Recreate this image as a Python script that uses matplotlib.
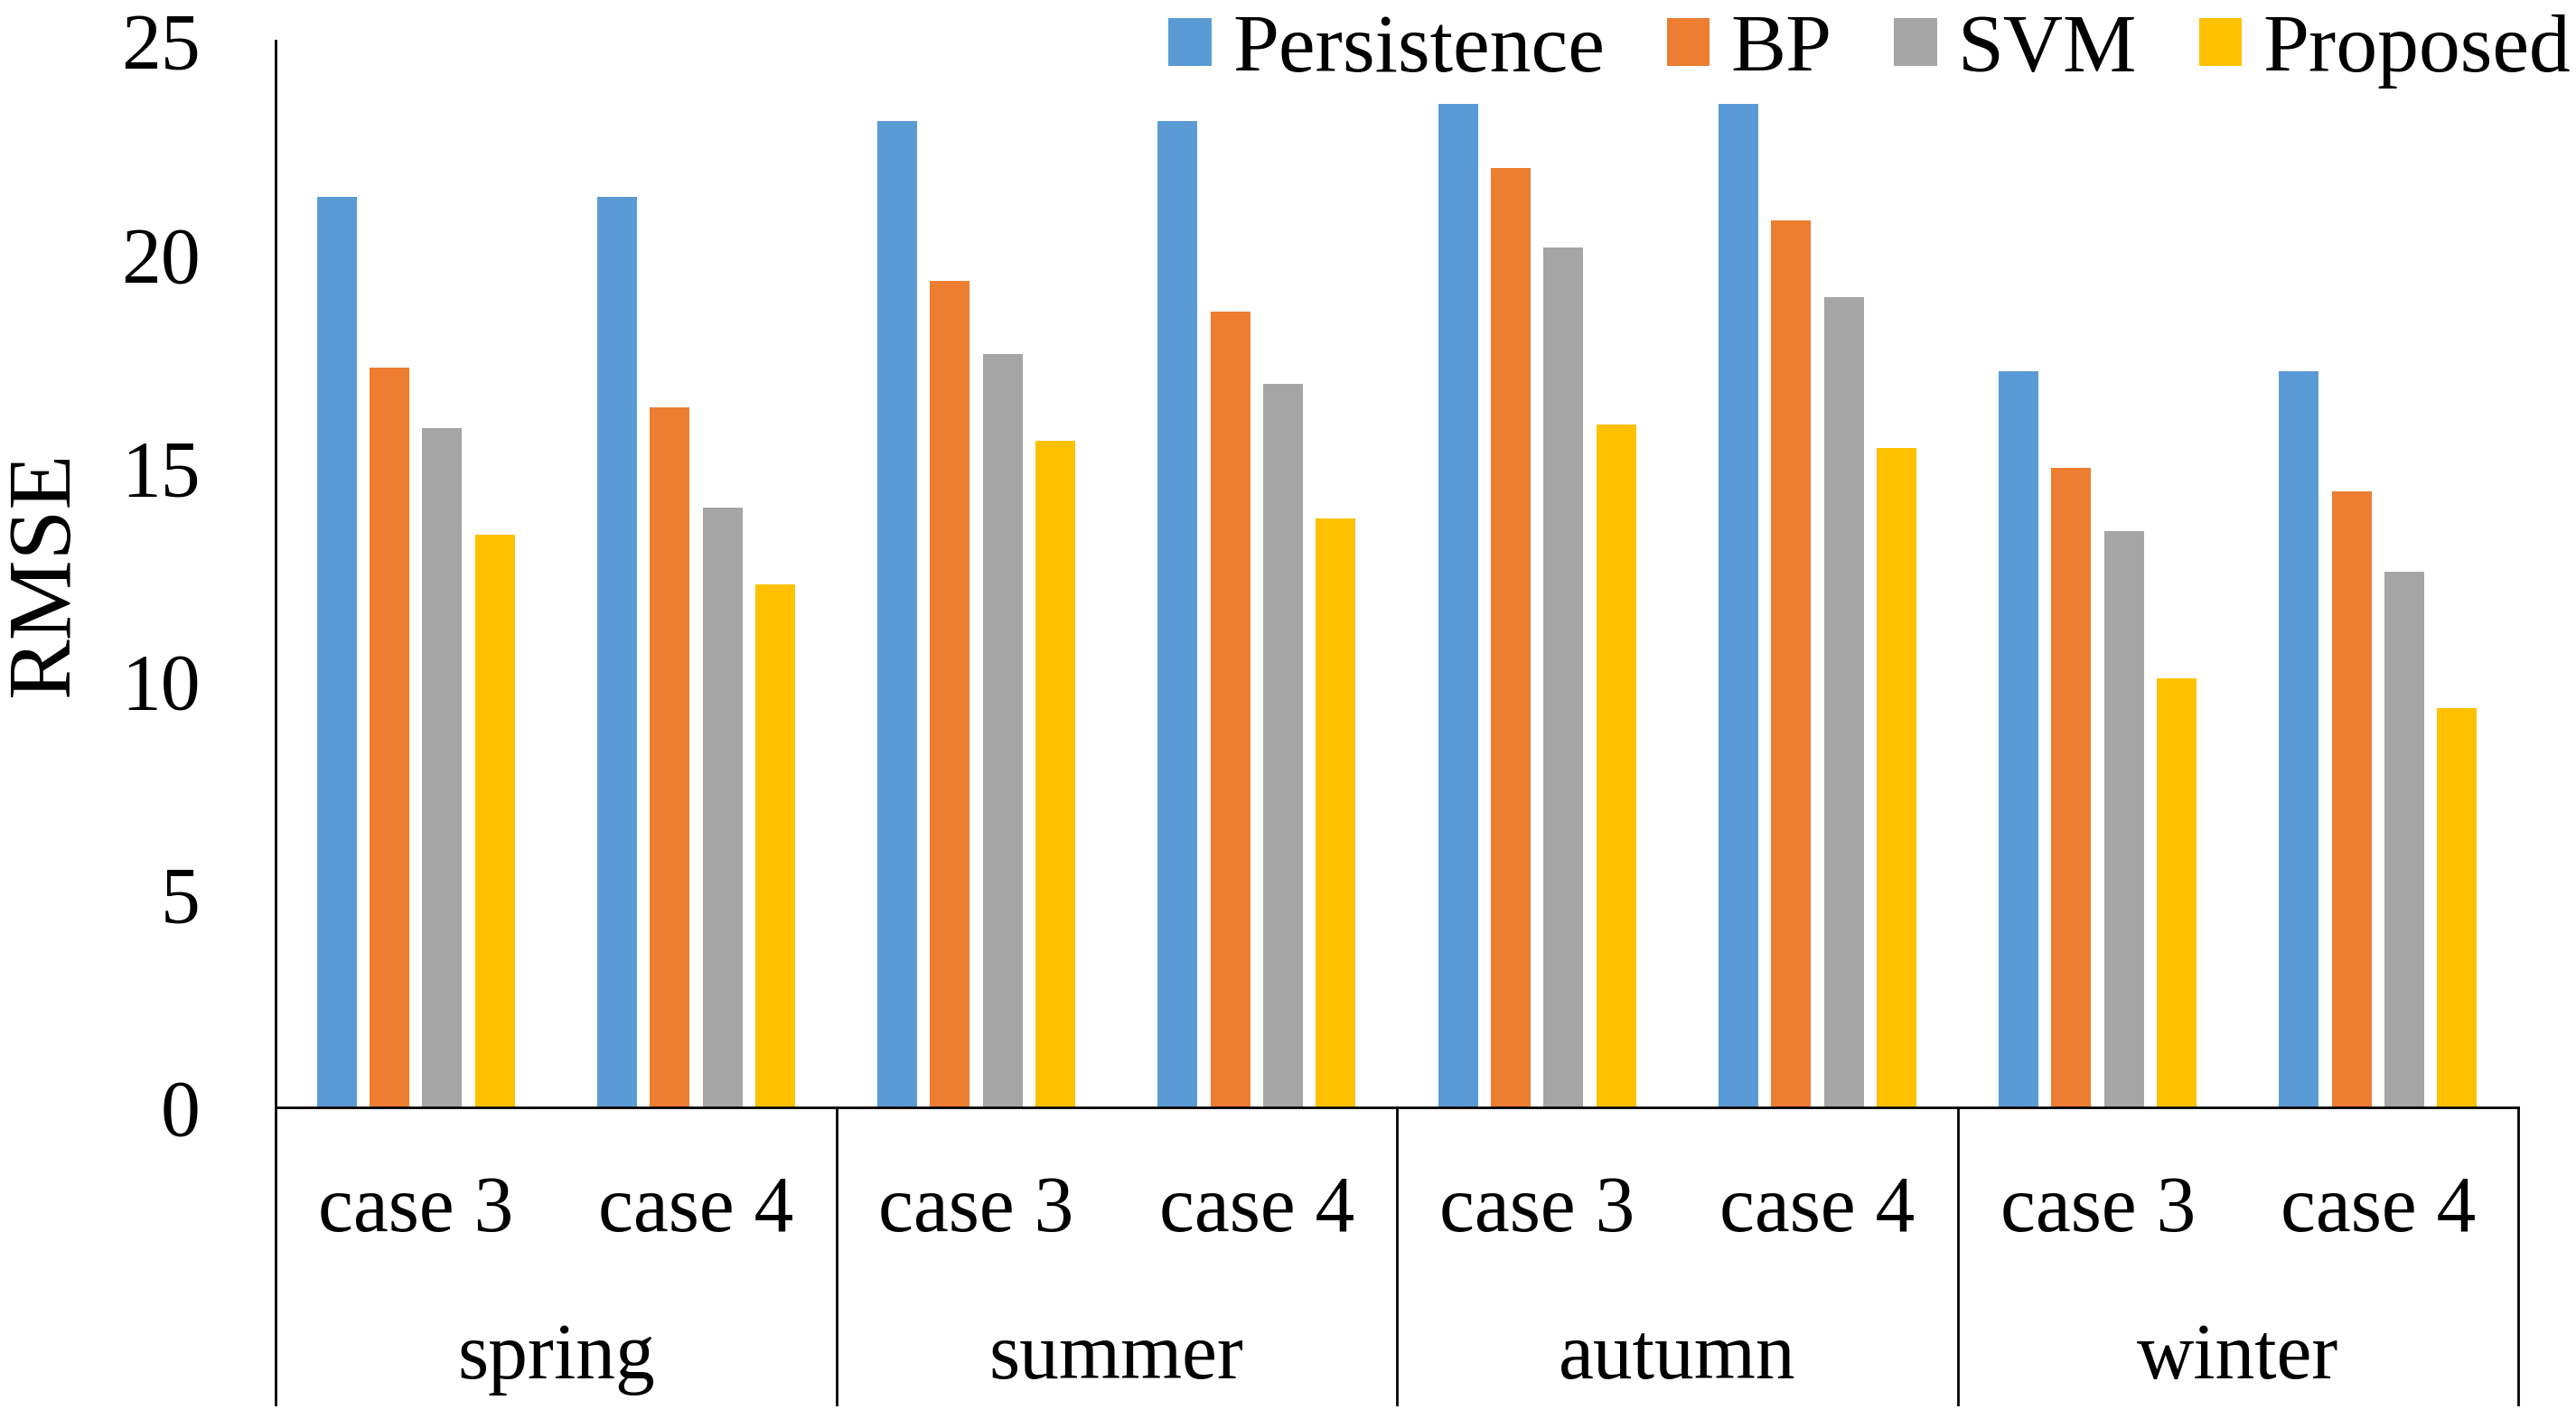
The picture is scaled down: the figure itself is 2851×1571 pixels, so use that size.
import matplotlib.pyplot as plt
import numpy as np
from matplotlib import rcParams
from matplotlib.lines import Line2D
from matplotlib.transforms import blended_transform_factory

rcParams["font.family"] = ["Liberation Serif", "DejaVu Serif"]

SEASONS = ["spring", "summer", "autumn", "winter"]
CASES = ["case 3", "case 4"] * 4
SERIES = ["Persistence", "BP", "SVM", "Proposed"]
COLORS = ["#5B9BD5", "#ED7D31", "#A5A5A5", "#FFC000"]

persistence = [21.33, 21.33, 23.12, 23.12, 23.52, 23.52, 17.26, 17.26]
bp = [17.33, 16.40, 19.37, 18.66, 22.02, 20.78, 14.98, 14.44]
svm = [15.92, 14.05, 17.65, 16.95, 20.15, 18.98, 13.50, 12.56]
proposed = [13.42, 12.25, 15.62, 13.81, 16.00, 15.45, 10.05, 9.35]
values = [persistence, bp, svm, proposed]

W, H = 2851, 1571
fig = plt.figure(figsize=(W / 100, H / 100), dpi=100)
zero_px, top_px, left_px, right_px, bottom_px = 1226, 45, 305, 2787, 1555
ax = fig.add_axes([left_px / W, 1 - zero_px / H,
                   (right_px - left_px) / W, (zero_px - top_px) / H])

x = np.arange(len(CASES))
pitch, bw = 0.188, 0.142
for i, (name, vals, col) in enumerate(zip(SERIES, values, COLORS)):
    ax.bar(x + (i - 1.5) * pitch, vals, width=bw, color=col, label=name)

ax.set_xlim(-0.5, len(CASES) - 0.5)
ax.set_ylim(0, 25)
ax.set_yticks(range(0, 26, 5))
ax.set_xticks([])
ax.tick_params(axis="y", length=0, pad=60, labelsize=63)
for s in ("top", "right"):
    ax.spines[s].set_visible(False)
ax.spines["left"].set_visible(False)
ax.spines["bottom"].set_linewidth(2)

# category frame below the axis
span = zero_px - top_px
depth = -(bottom_px - zero_px) / span
tr = blended_transform_factory(ax.transData, ax.transAxes)
ax.add_line(Line2D([-0.5, -0.5], [depth, 1.0], transform=tr, color="black",
                   lw=2, clip_on=False))
for sx in [1.5, 3.5, 5.5, 7.5]:
    ax.add_line(Line2D([sx, sx], [depth, 0], transform=tr, color="black",
                       lw=2, clip_on=False))

case_y = -(1363 - zero_px) / span
season_y = -(1526 - zero_px) / span
for xi, lab in zip(x, CASES):
    ax.text(xi, case_y, lab, transform=tr, ha="center", va="baseline",
            fontsize=63)
for k, lab in enumerate(SEASONS):
    ax.text(2 * k + 0.5, season_y, lab, transform=tr, ha="center",
            va="baseline", fontsize=63)

fig.text(51 / W, 1 - 636 / H, "RMSE", rotation=90, ha="center", va="center",
         fontsize=72)

ax.legend(ncol=4, loc="center right", bbox_to_anchor=(2845 / W, 1 - 57 / H),
          bbox_transform=fig.transFigure, frameon=False, fontsize=66,
          handlelength=0.52, handleheight=0.52, handletextpad=0.25,
          columnspacing=0.75, borderpad=0, borderaxespad=0)

fig.savefig("out.png", dpi=100, facecolor="white")
